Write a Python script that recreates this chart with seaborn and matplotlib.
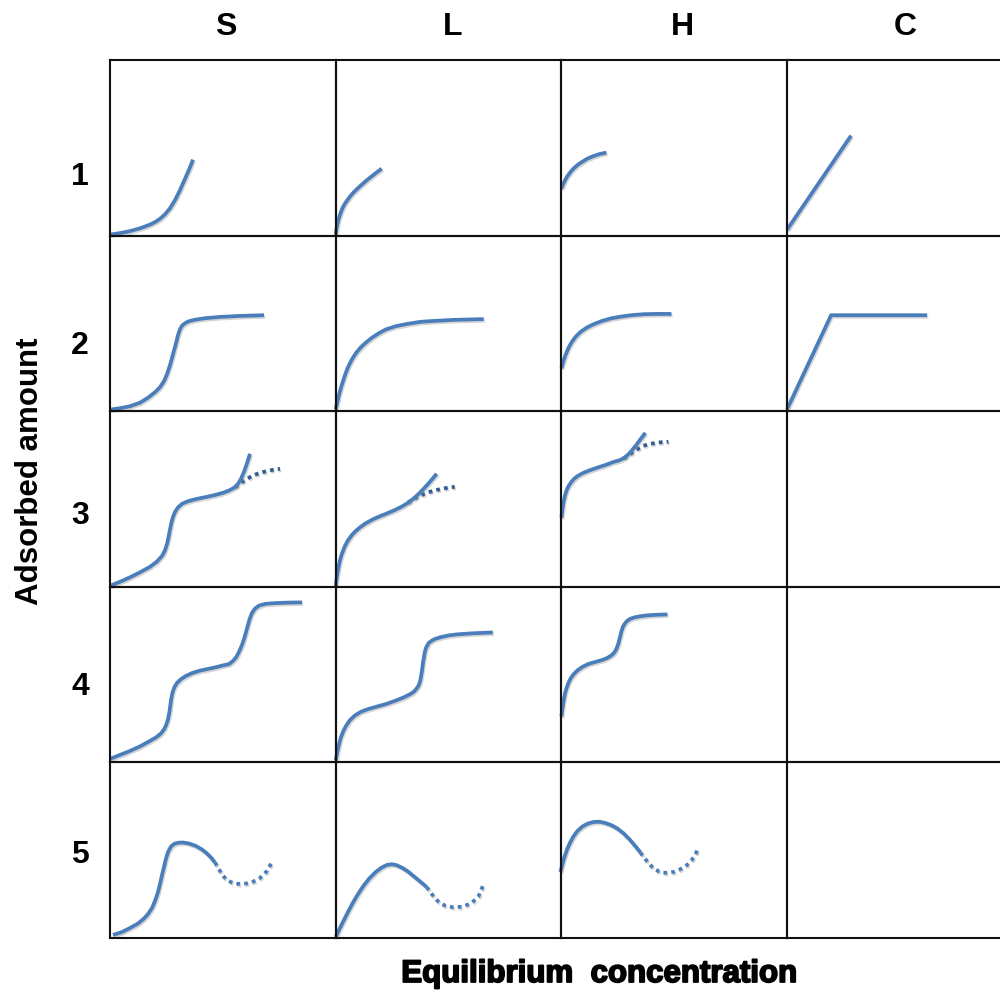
import matplotlib
matplotlib.use("Agg")
import matplotlib.pyplot as plt
import matplotlib.patheffects as pe
import seaborn as sns

sns.set_theme(style="white")
plt.rcParams['font.family'] = ['Liberation Sans', 'DejaVu Sans']

# Giles classification of adsorption isotherms
col_labels = ["S", "L", "H", "C"]
row_labels = ["1", "2", "3", "4", "5"]

# Each curve: equilibrium concentration (x) vs adsorbed amount (y), arbitrary units
S1_x = [0, 10, 20, 30, 40, 45, 50, 55, 60, 65, 70, 75, 80, 83]
S1_y = [1, 2.5, 4.5, 7.3, 11, 13.5, 16.8, 21.3, 27.3, 35.5, 45.5, 56.8, 68.3, 76]
L1_x = [0, 1, 2, 3.5, 5, 7, 9.5, 12, 15, 18, 21, 25, 30, 35, 40, 46]
L1_y = [1, 8, 13, 18.5, 23, 28, 32.5, 36, 40, 43.3, 46.3, 50, 54.5, 58.5, 62.5, 67]
H1_x = [0, 2, 4, 6, 9, 12, 16, 20, 26, 32, 38, 45]
H1_y = [47, 52, 56, 59.5, 63.5, 67, 70.5, 73.3, 77, 79.5, 81.5, 83]
C1_x = [0, 64]
C1_y = [6, 100]

S2_x = [0, 10, 20, 30, 38, 45, 50, 54, 57, 60, 63, 66, 68, 70, 72, 75, 79, 85, 95, 110, 130, 154]
S2_y = [1.5, 3, 5, 8.5, 13.5, 19, 24, 30, 37, 46, 57, 68, 76, 82, 85.5, 88, 90, 91.5, 93, 94.3, 95.3, 96]
L2_x = [0, 2, 4, 6, 9, 12, 16, 20, 25, 30, 36, 43, 50, 60, 72, 85, 100, 120, 148]
L2_y = [2, 11, 19, 26, 35.3, 43.4, 51.4, 57.8, 63.8, 68.5, 73.3, 77.9, 81.7, 85, 87.4, 89.4, 90.4, 91.4, 92.1]
H2_x = [0, 2, 4, 7, 10, 14, 19, 25, 32, 40, 50, 60, 70, 82, 95, 110]
H2_y = [43, 50, 56, 63.2, 68.6, 74.2, 79.2, 83.4, 86.9, 90.1, 92.9, 94.7, 96, 97, 97.3, 97.3]
C2_x = [0, 44, 140]
C2_y = [2, 96, 96]

S3_x = [0, 10, 20, 30, 40, 47, 52, 55, 57, 58.5, 60, 61.5, 63, 65, 68, 72, 77, 83, 90, 97,
        105, 113, 119, 124, 128, 131, 134, 137, 140]
S3_y = [1, 5, 9.5, 14.5, 20, 25.3, 30.8, 36.5, 42.9, 49.6, 57.4, 64.6, 69.9, 74.9, 79.4, 83,
        85.2, 87, 88.6, 90, 91.8, 94, 96.3, 99, 103, 108, 115, 123.5, 133]
S3b_x = [125, 131, 137, 143, 150, 160, 170]
S3b_y = [99.5, 104, 108, 111.3, 114, 116.5, 118]
L3_x = [0, 1, 2, 4, 6, 9, 12, 16, 20, 25, 30, 37, 44, 51, 59, 66, 72, 77, 82, 87, 92, 96, 101]
L3_y = [1, 9, 15.5, 25.5, 32.5, 40.3, 46, 51.6, 55.8, 60, 63.5, 67.4, 70.5, 73.3, 76.7, 80.2,
        83.8, 87.5, 92, 97, 102.5, 107.1, 113]
L3b_x = [72, 78, 84, 91, 99, 109, 119]
L3b_y = [84, 88, 91, 94, 96.5, 98.5, 100]
H3_x = [0, 1, 2, 3.5, 5, 7, 10, 13, 17, 22, 28, 36, 44, 52, 58, 63, 67, 71, 75, 79, 84]
H3_y = [69, 77.5, 84, 91, 96, 100.5, 105, 108.3, 111.3, 114, 116.4, 119.2, 121.8, 124.8,
        126.5, 129, 132.5, 137, 142, 147.5, 154]
H3b_x = [62, 67, 72, 77, 82, 88, 95, 101, 107]
H3b_y = [128.5, 131.5, 135, 138.3, 141, 142.8, 144, 144.7, 145]

S4_x = [0, 10, 20, 30, 40, 46, 51, 54, 56, 58, 59.5, 61, 62.5, 64.5, 67, 71, 76, 82, 90, 98,
        106, 113, 119, 123, 126, 129, 132, 134.5, 137, 139.5, 142, 145, 149, 155, 165, 178, 192]
S4_y = [3.5, 7.5, 11.5, 16, 21.5, 25, 29, 33, 37, 43, 51, 62, 70, 75.5, 79.5, 83.3, 86.5, 89.3,
        91.8, 93.5, 95.2, 97, 98.3, 101.5, 105, 110.5, 117.5, 125, 134, 143, 149.5, 153.8,
        156.8, 158.5, 159.3, 159.8, 160]
L4_x = [0, 1.5, 3, 5, 7.5, 10, 14, 19, 25, 32, 40, 50, 60, 68, 74, 78, 81, 83, 84.5, 86, 87.5,
        89, 90.5, 93, 96.5, 100, 106, 113, 121, 135, 157]
L4_y = [2, 10, 17, 24.5, 31, 36, 42, 46.8, 50.5, 53.2, 55.5, 58.3, 61.8, 65, 68, 70.5, 74, 77,
        81.5, 90, 101, 110, 115, 119.5, 122, 123.7, 125.5, 127, 128, 129, 130]
H4_x = [0, 1, 2, 3.5, 5, 7, 9.5, 12.5, 16, 21, 27, 34, 41, 46, 50, 53, 55, 57, 58.5, 60, 61.5,
        63.5, 66, 69, 73, 78, 85, 95, 106]
H4_y = [46, 54, 60.5, 68.5, 74, 79.5, 84.5, 88.5, 92, 95.5, 98.5, 100.5, 102.5, 104.5, 107,
        110, 113.5, 119, 125, 131, 135.5, 139, 141.8, 143.6, 145, 146, 147, 147.6, 148]

S5_x = [3, 12, 20, 28, 34, 38, 42, 45, 48, 50, 52, 54, 56, 58, 61, 64, 68, 73, 79, 86, 92, 97,
        101, 105]
S5_y = [3, 6, 10, 14.5, 19.5, 24, 30, 37, 46, 54, 63, 71, 79.5, 86, 91.5, 94, 95.3, 95.5, 94.5,
        92, 88.5, 84.5, 80.5, 75.5]
S5b_x = [105, 108, 112, 117, 123, 128, 133, 138, 143, 150, 157, 163]
S5b_y = [75.5, 70.5, 63.5, 57.8, 55, 54.2, 54.1, 54.8, 56.3, 60, 67, 78]
L5_x = [0, 4, 8, 12, 17, 22, 28, 34, 40, 46, 51, 56, 61, 67, 73, 79, 85, 91]
L5_y = [1, 9.5, 17.5, 25.5, 35, 43.5, 52.5, 60, 66, 70.5, 73, 73.8, 72.8, 70, 66, 61, 56, 51]
L5b_x = [91, 96, 102, 109, 117, 127, 136, 143, 148]
L5b_y = [51, 44, 37, 32.5, 30.8, 31.3, 35, 42, 54]
H5_x = [-1, 1, 3, 6, 9, 12, 16, 21, 26, 32, 38, 44, 50, 56, 62, 68, 74, 79]
H5_y = [66, 74, 81, 89.5, 96, 101.5, 107, 111.5, 114.3, 116, 116.3, 115, 112.8, 109.5, 104.8,
        98.8, 91.8, 85.5]
H5b_x = [79, 83, 87, 92, 97, 102, 107, 113, 119, 125, 130, 134, 136]
H5b_y = [85.5, 80, 75, 69.8, 66.8, 65.3, 65.2, 66.3, 68.8, 72.5, 77.5, 83.5, 88]

BLUE = "#4a7ebb"
DARK_BLUE = "#2f5d94"

# (row, column, x, y, line kind, colour)
curves = [
    (0, 0, S1_x, S1_y, "solid", BLUE), (0, 1, L1_x, L1_y, "solid", BLUE),
    (0, 2, H1_x, H1_y, "solid", BLUE), (0, 3, C1_x, C1_y, "solid", BLUE),
    (1, 0, S2_x, S2_y, "solid", BLUE), (1, 1, L2_x, L2_y, "solid", BLUE),
    (1, 2, H2_x, H2_y, "solid", BLUE), (1, 3, C2_x, C2_y, "solid", BLUE),
    (2, 0, S3b_x, S3b_y, "dot", DARK_BLUE), (2, 0, S3_x, S3_y, "solid", BLUE),
    (2, 1, L3b_x, L3b_y, "dot", DARK_BLUE), (2, 1, L3_x, L3_y, "solid", BLUE),
    (2, 2, H3b_x, H3b_y, "dot", DARK_BLUE), (2, 2, H3_x, H3_y, "solid", BLUE),
    (3, 0, S4_x, S4_y, "solid", BLUE), (3, 1, L4_x, L4_y, "solid", BLUE),
    (3, 2, H4_x, H4_y, "solid", BLUE),
    (4, 0, S5_x, S5_y, "solid", BLUE), (4, 0, S5b_x, S5b_y, "dot", BLUE),
    (4, 1, L5_x, L5_y, "solid", BLUE), (4, 1, L5b_x, L5b_y, "dot", BLUE),
    (4, 2, H5_x, H5_y, "solid", BLUE), (4, 2, H5b_x, H5b_y, "dot", BLUE),
]

W, H = 1000, 991
fig = plt.figure(figsize=(W / 100, H / 100), dpi=100)
fig.patch.set_facecolor("white")

grid_left, grid_top = 110, 60
cell_w, cell_h = 225.7, 175.6

axes = {}
for r in range(len(row_labels)):
    for c in range(len(col_labels)):
        ax = fig.add_axes([(grid_left + c * cell_w) / W,
                           1 - (grid_top + (r + 1) * cell_h) / H,
                           cell_w / W, cell_h / H])
        ax.set_xlim(0, cell_w)
        ax.set_ylim(0, cell_h)
        ax.set_xticks([])
        ax.set_yticks([])
        ax.set_facecolor("none")
        for sp in ax.spines.values():
            sp.set_visible(True)
            sp.set_color("#111111")
            sp.set_linewidth(1.5)
        axes[(r, c)] = ax

shadow = [pe.SimpleLineShadow(offset=(0.8, -1.2), shadow_color="#888888", alpha=0.35),
          pe.Normal()]

for r, c, xs, ys, kind, color in curves:
    ax = axes[(r, c)]
    if kind == "solid":
        sns.lineplot(x=xs, y=ys, ax=ax, color=color, linewidth=2.7, sort=False,
                     estimator=None, clip_on=False, solid_capstyle="butt",
                     solid_joinstyle="round", path_effects=shadow)
    else:
        sns.lineplot(x=xs, y=ys, ax=ax, color=color, linewidth=2.7, sort=False,
                     estimator=None, clip_on=False, linestyle=(0, (1.0, 1.1)),
                     dash_capstyle="butt", path_effects=shadow)

# column headers and row numbers
header_x = [226, 453, 682, 905]
for lab, x in zip(col_labels, header_x):
    fig.text(x / W, 1 - 27 / H, lab, ha="center", va="center",
             fontsize=23, fontweight="bold", color="black")

row_y = [177, 346, 516, 687, 855]
for lab, y in zip(row_labels, row_y):
    fig.text(80 / W, 1 - y / H, lab, ha="center", va="center",
             fontsize=23, fontweight="bold", color="black")

fig.text(30 / W, 1 - 471 / H, "Adsorbed amount", rotation=90, ha="center",
         va="center", fontsize=22.5, fontweight="bold", color="black")
fig.text(599 / W, 1 - 974 / H, "Equilibrium  concentration", ha="center",
         va="center", fontsize=22.5, fontweight="bold", color="black",
         path_effects=[pe.withStroke(linewidth=1.3, foreground="black")])

fig.savefig("out.png", dpi=100, facecolor="white")
